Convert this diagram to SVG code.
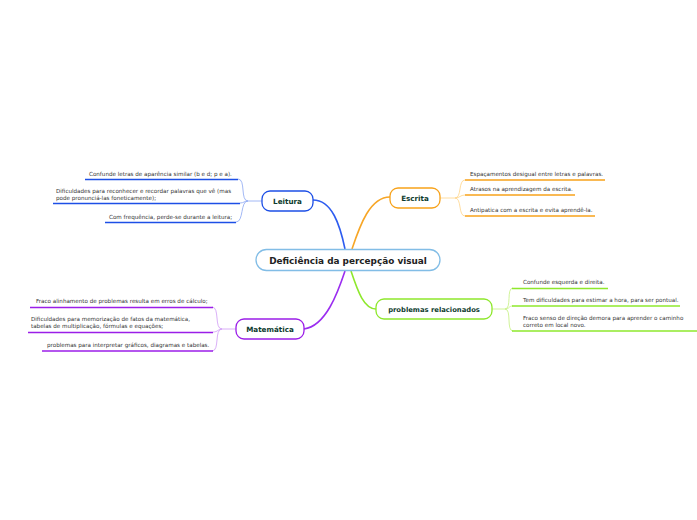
<svg xmlns="http://www.w3.org/2000/svg" width="697" height="520" viewBox="0 0 697 520">
<style>
.leaf{font-family:"DejaVu Sans",Verdana,sans-serif;font-size:5.6px;fill:#333}
.main{font-family:"DejaVu Sans",Verdana,sans-serif;font-size:8.9px;font-weight:bold;fill:#222}
.br{font-family:"DejaVu Sans",Verdana,sans-serif;font-size:7.2px;font-weight:bold;fill:#0d3b2e;text-anchor:middle}
.node{fill:#fff;stroke-width:1.3}
.c{fill:none}
</style>
<rect width="697" height="520" fill="#fff"/>
<g id="connectors">
<path class="c" d="M313,200 C332,200 340,225 345,249" stroke="#2d5cf0" stroke-width="1.6"/>
<path class="c" d="M390,197 C370,197 360,225 352,249" stroke="#f7a626" stroke-width="1.6"/>
<path class="c" d="M345,271 C338,292 326,326 304,329" stroke="#9b2df0" stroke-width="1.6"/>
<path class="c" d="M351,271 C358,292 364,309 376,309" stroke="#8ee82c" stroke-width="1.6"/>
<g stroke="#8aa6f2" stroke-width="0.8" fill="none">
<path d="M262,201 L248,201"/>
<path d="M248,201 C240,201 246,179 238,179"/>
<path d="M248,201 C244,201 244,203 240,203"/>
<path d="M248,201 C240,201 244,222 236,222"/>
</g>
<g stroke="#ffd488" stroke-width="0.8" fill="none">
<path d="M440,198 L455,198"/>
<path d="M455,198 C462,198 458,180 465,180"/>
<path d="M455,198 C460,198 460,195 465,195"/>
<path d="M455,198 C462,198 458,216 465,216"/>
</g>
<g stroke="#c4f07e" stroke-width="0.8" fill="none">
<path d="M492,309 L505,309"/>
<path d="M505,309 C512,309 506,288 513,288"/>
<path d="M505,309 C510,309 508,306 513,306"/>
<path d="M505,309 C512,309 506,331 513,331"/>
</g>
<g stroke="#cf9af5" stroke-width="0.8" fill="none">
<path d="M236,329 L222,329"/>
<path d="M222,329 C214,329 220,307 212,307"/>
<path d="M222,329 C218,329 218,332 213,332"/>
<path d="M222,329 C214,329 220,351 212,351"/>
</g>
<g stroke-width="1.6">
<line x1="85" y1="179.5" x2="238" y2="179.5" stroke="#1d4fe6"/>
<line x1="53" y1="203.5" x2="240" y2="203.5" stroke="#1d4fe6"/>
<line x1="105" y1="222.5" x2="236" y2="222.5" stroke="#1d4fe6"/>
<line x1="465" y1="180" x2="605" y2="180" stroke="#f7a21a"/>
<line x1="465" y1="195" x2="575" y2="195" stroke="#f7a21a"/>
<line x1="465" y1="216" x2="595" y2="216" stroke="#f7a21a"/>
<line x1="512" y1="288.5" x2="608" y2="288.5" stroke="#8ee82c"/>
<line x1="512" y1="306" x2="680" y2="306" stroke="#8ee82c"/>
<line x1="512" y1="331" x2="697" y2="331" stroke="#8ee82c"/>
<line x1="30" y1="307.5" x2="213" y2="307.5" stroke="#9b1ee8"/>
<line x1="28" y1="332.5" x2="213" y2="332.5" stroke="#9b1ee8"/>
<line x1="42" y1="351" x2="213" y2="351" stroke="#9b1ee8"/>
</g>
</g>
<g id="central">
<rect class="node" x="256" y="249.5" width="184" height="21" rx="10.5" stroke="#82bde6" stroke-width="1.8"/>
<text class="main" x="348" y="263.5" text-anchor="middle">Deficiência da percepção visual</text>
</g>
<g id="leitura">
<rect class="node" x="262" y="191" width="51" height="20" rx="8" stroke="#1d4fe6"/>
<text class="br" x="287.5" y="204">Leitura</text>
</g>
<g id="escrita">
<rect class="node" x="390" y="188" width="50" height="20" rx="8" stroke="#f7a21a"/>
<text class="br" x="415" y="201">Escrita</text>
</g>
<g id="problemas">
<rect class="node" x="376" y="299" width="116" height="20" rx="8" stroke="#8ee82c"/>
<text class="br" x="434" y="312" style="font-size:6.8px">problemas relacionados</text>
</g>
<g id="matematica">
<rect class="node" x="236" y="319" width="68" height="20" rx="8" stroke="#9b1ee8"/>
<text class="br" x="270" y="332">Matemática</text>
</g>
<g id="leitura-leaves">
<text class="leaf" x="89" y="176">Confunde letras de aparência similar (b e d; p e a).</text>
<text class="leaf" x="56" y="193">Dificuldades para reconhecer e recordar palavras que vê (mas</text>
<text class="leaf" x="56" y="200">pode pronunciá-las foneticamente);</text>
<text class="leaf" x="109" y="219">Com frequência, perde-se durante a leitura;</text>
</g>
<g id="escrita-leaves">
<text class="leaf" x="470" y="176">Espaçamentos desigual entre letras e palavras.</text>
<text class="leaf" x="470" y="191">Atrasos na aprendizagem da escrita.</text>
<text class="leaf" x="470" y="212">Antipatica com a escrita e evita aprendê-la.</text>
</g>
<g id="problemas-leaves">
<text class="leaf" x="523" y="284">Confunde esquerda e direita.</text>
<text class="leaf" x="523" y="302">Tem dificuldades para estimar a hora, para ser pontual.</text>
<text class="leaf" x="523" y="320">Fraco senso de direção demora para aprender o caminho</text>
<text class="leaf" x="523" y="327">correto em local novo.</text>
</g>
<g id="matematica-leaves">
<text class="leaf" x="36" y="303">Fraco alinhamento de problemas resulta em erros de cálculo;</text>
<text class="leaf" x="31" y="321">Dificuldades para memorização de fatos da matemática,</text>
<text class="leaf" x="31" y="328">tabelas de multiplicação, fórmulas e equações;</text>
<text class="leaf" x="47" y="347">problemas para interpretar gráficos, diagramas e tabelas.</text>
</g>
</svg>
